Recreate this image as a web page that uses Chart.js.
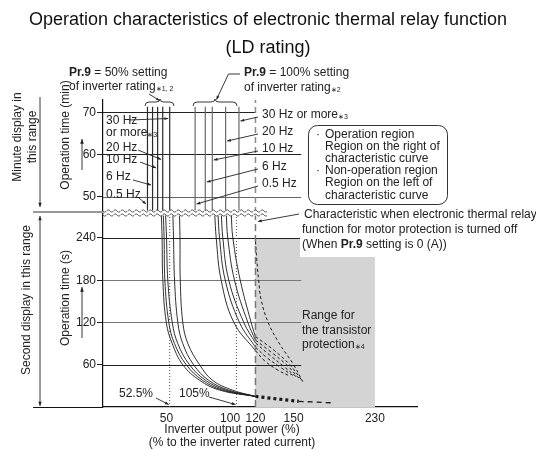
<!DOCTYPE html>
<html>
<head>
<meta charset="utf-8">
<script src="https://cdn.jsdelivr.net/npm/chart.js@4.4.0/dist/chart.umd.min.js"></script>
<style>
  html, body { margin: 0; padding: 0; background: #fff; }
  #wrap { width: 536px; height: 450px; }
</style>
</head>
<body>
<div id="wrap"><canvas id="relayChart" width="536" height="450"></canvas></div>
<script>
const FONT = '"Liberation Sans", Arial, sans-serif';

// axis ticks
const xTicks = [50, 100, 120, 150, 230];
const minTicks = [50, 60, 70];
const secTicks = [60, 120, 180, 240];

// minute range: level (% of rated current) each frequency settles at
// order: 0.5 Hz, 6 Hz, 10 Hz, 20 Hz, 30 Hz or more
const limit50 = [35, 39, 43, 47, 52.5];
const limit100 = [72.5, 80.5, 86, 96.5, 107];
const minuteSpan = [46.1, 71.3];

// second range, Pr.9 = 50 %: current (%) at each operation time (s)
const sec50Times = [275, 240, 180, 120, 90, 60, 38, 24, 15];
const sec50 = [
  [45.9, 46.5, 47.1, 49.8, 54.5, 62.8, 76.0, 91.7, 120],
  [47.4, 48.1, 48.7, 51.8, 56.3, 65.5, 78.3, 94.0, 120],
  [49.2, 50.0, 51.0, 54.5, 58.9, 68.1, 80.7, 96.4, 120],
  [55.0, 55.5, 56.3, 58.9, 62.8, 71.3, 83.1, 98.8, 120],
  [60.2, 60.6, 60.8, 62.8, 66.8, 76.0, 86.2, 101.9, 120]
];

// second range, Pr.9 = 100 %
const sec100Times = [275, 240, 180, 120];
const sec100 = [
  [87.9, 89.1, 93.0, 103.0],
  [90.5, 91.7, 96.2, 107.4],
  [93.1, 94.3, 99.0, 110.8],
  [97.0, 98.2, 103.5, 114.0],
  [100.9, 102.2, 108.0, 116.6]
];
const sec100End = [80, 85, 91, 95, 100];   // time (s) where each curve reaches 120 %

// dashed continuation inside the transistor protection range
const tailX = [
  [120, 127, 137, 147],
  [120, 129, 140, 150],
  [120, 131, 142, 152.5],
  [120, 133, 145, 155],
  [120, 135, 147, 157.5]
];
const tailT = [
  [80, 66, 53, 44],
  [85, 70, 56, 44],
  [91, 74, 58, 43],
  [95, 77, 59, 41],
  [100, 80, 60, 39]
];

// characteristic with Pr.9 = 0 (A)
const offLevel = 120;
const offX = [120, 121, 122.5, 124.5, 130, 138.5, 150, 159];
const offT = [235, 210, 180, 152, 120, 91, 60, 36];

// short-time end where all curves meet
const shortX = [120, 155];
const shortT = [15, 8];
const shortX2 = [155, 187];
const shortT2 = [8, 6];

const markPct = [52.5, 105];
const protectRange = [120, 230];
const protectTop = 240;
const guideEnd = 157.5;

// x axis is drawn compressed above 150 %
const X_BREAK = 150, X_SQUEEZE = 0.8;
const warp = v => v <= X_BREAK ? v : X_BREAK + (v - X_BREAK) * X_SQUEEZE;
const unwarp = v => v <= X_BREAK ? v : X_BREAK + (v - X_BREAK) / X_SQUEEZE;

class SplitLinearScale extends Chart.LinearScale {
  static id = 'splitLinear';
  static defaults = Chart.LinearScale.defaults;
  configure() {
    super.configure();
    this._startValue = warp(this.min);
    this._valueRange = warp(this.max) - this._startValue;
  }
  getPixelForValue(value) {
    if (value === null || value === undefined) return NaN;
    return this.getPixelForDecimal((warp(value) - this._startValue) / this._valueRange);
  }
  getValueForPixel(pixel) {
    return unwarp(this._startValue + this.getDecimalForPixel(pixel) * this._valueRange);
  }
}
Chart.register(SplitLinearScale);

const datasets = [];
function addLine(xs, ys, yAxisID, style) {
  datasets.push(Object.assign({
    data: xs.map((x, i) => ({ x, y: ys[i] })),
    yAxisID,
    showLine: true,
    pointRadius: 0,
    borderColor: '#1a1a1a',
    borderWidth: 1,
    tension: 0,
    fill: false
  }, style));
}

limit50.forEach(v => addLine([v, v], minuteSpan, 'yMin', { borderColor: '#2a2a2a', borderWidth: 1.2 }));
limit100.forEach(v => addLine([v, v], minuteSpan, 'yMin', { borderColor: '#6a6a6a', borderWidth: 1.2 }));

addLine([offLevel, offLevel], [46.1, 72.9], 'yMin', { borderColor: '#8a8a8a', borderWidth: 1.5, borderDash: [6, 4] });
addLine([offLevel, offLevel], [0, 275], 'ySec', { borderColor: '#777', borderWidth: 1.5, borderDash: [7, 4] });

markPct.forEach(v => addLine([v, v], [0, 275], 'ySec', { borderColor: '#555', borderWidth: 1, borderDash: [1, 2] }));

sec50.forEach(xs => addLine(xs, sec50Times, 'ySec', { borderWidth: 0.9, tension: 0.4 }));
sec100.forEach((xs, i) => addLine(xs.concat(offLevel), sec100Times.concat(sec100End[i]), 'ySec',
  { borderWidth: 0.9, tension: 0.4 }));
tailX.forEach((xs, i) => addLine(xs, tailT[i], 'ySec', { borderWidth: 1, borderDash: [3, 2.5], tension: 0.4 }));
addLine(offX, offT, 'ySec', { borderWidth: 1, borderDash: [3, 2.5], tension: 0.4 });
addLine(shortX, shortT, 'ySec', { borderWidth: 3.2, borderDash: [3, 3] });
addLine(shortX2, shortT2, 'ySec', { borderWidth: 1.3, borderDash: [5, 4] });

function arrow(ctx, x1, y1, x2, y2, head) {
  head = head || 4.5;
  ctx.beginPath(); ctx.moveTo(x1, y1); ctx.lineTo(x2, y2); ctx.stroke();
  const a = Math.atan2(y2 - y1, x2 - x1);
  ctx.beginPath();
  ctx.moveTo(x2, y2);
  ctx.lineTo(x2 - head * Math.cos(a - 0.38), y2 - head * Math.sin(a - 0.38));
  ctx.lineTo(x2 - head * Math.cos(a + 0.38), y2 - head * Math.sin(a + 0.38));
  ctx.closePath(); ctx.fill();
}

function rich(ctx, x, y, parts) {
  for (const [t, f, dy] of parts) {
    ctx.font = f;
    ctx.fillText(t, x, y + (dy || 0));
    x += ctx.measureText(t).width;
  }
}

function vtext(ctx, t, x, y) {
  ctx.save();
  ctx.translate(x, y);
  ctx.rotate(-Math.PI / 2);
  ctx.textAlign = 'center';
  ctx.fillText(t, 0, 0);
  ctx.restore();
}

function brace(ctx, x0, x1, tip, y) {
  ctx.beginPath();
  ctx.moveTo(x0, y + 4);
  ctx.quadraticCurveTo(x0, y, x0 + 4, y);
  ctx.lineTo(tip - 4, y);
  ctx.quadraticCurveTo(tip, y, tip, y - 3);
  ctx.quadraticCurveTo(tip, y, tip + 4, y);
  ctx.lineTo(x1 - 4, y);
  ctx.quadraticCurveTo(x1, y, x1, y + 4);
  ctx.stroke();
}

function waveLine(ctx, x0, x1, y) {
  ctx.beginPath();
  for (let px = x0; px <= x1; px += 1) {
    const yy = y + 1.2 * Math.sin((px - x0) / 7 * 2 * Math.PI);
    if (px === x0) ctx.moveTo(px, yy); else ctx.lineTo(px, yy);
  }
  ctx.stroke();
}

const N = '12px ' + FONT;
const B = 'bold 12px ' + FONT;
const S = '7px ' + FONT;

const annotate = {
  id: 'annotate',
  beforeDatasetsDraw(chart) {
    const { ctx, scales: { x, ySec, yMin } } = chart;
    ctx.save();
    // transistor protection range
    const gx0 = x.getPixelForValue(protectRange[0]);
    const gx1 = x.getPixelForValue(protectRange[1]);
    const gy0 = ySec.getPixelForValue(protectTop);
    ctx.fillStyle = '#d4d4d4';
    ctx.fillRect(gx0, gy0, gx1 - gx0, ySec.getPixelForValue(0) - gy0);

    // guide lines
    const x0 = x.getPixelForValue(0);
    const xe = x.getPixelForValue(guideEnd);
    const secColors = { 60: '#222', 120: '#777', 180: '#777', 240: '#222' };
    ctx.lineWidth = 1;
    secTicks.forEach(t => {
      const y = Math.round(ySec.getPixelForValue(t)) + 0.5;
      ctx.strokeStyle = secColors[t];
      ctx.beginPath(); ctx.moveTo(x0, y); ctx.lineTo(xe, y); ctx.stroke();
    });
    const minColors = { 50: '#666', 60: '#222', 70: '#222' };
    minTicks.forEach(t => {
      const y = Math.round(yMin.getPixelForValue(t)) + 0.5;
      const end = t === 70 ? x.getPixelForValue(offLevel) : xe;
      ctx.strokeStyle = minColors[t];
      ctx.beginPath(); ctx.moveTo(x0, y); ctx.lineTo(end, y); ctx.stroke();
    });
    ctx.restore();
  },
  afterDatasetsDraw(chart) {
    const { ctx, scales: { x, ySec } } = chart;
    ctx.save();
    ctx.fillStyle = '#222';
    ctx.strokeStyle = '#222';
    ctx.lineWidth = 0.9;
    ctx.textBaseline = 'middle';
    ctx.textAlign = 'left';

    // scale break between minute and second ranges
    const wx0 = x.getPixelForValue(0), wx1 = 267;
    ctx.fillStyle = '#fff';
    ctx.fillRect(wx0 + 1, 210.5, wx1 - wx0, 5);
    ctx.strokeStyle = '#555';
    waveLine(ctx, wx0, wx1, 211);
    waveLine(ctx, wx0, wx1, 215);
    ctx.strokeStyle = '#999';
    ctx.lineWidth = 2;
    ctx.beginPath(); ctx.moveTo(33, 212); ctx.lineTo(wx0, 212); ctx.stroke();
    ctx.strokeStyle = '#111';
    ctx.lineWidth = 1;
    ctx.beginPath(); ctx.moveTo(33, 407.5); ctx.lineTo(wx0, 407.5); ctx.stroke();

    ctx.fillStyle = '#222';
    ctx.strokeStyle = '#222';
    ctx.lineWidth = 0.9;

    // range arrows on the left
    arrow(ctx, 40, 97, 40, 207);
    arrow(ctx, 40, 300, 40, 216);
    arrow(ctx, 40, 300, 40, 406);
    arrow(ctx, 82, 170, 82, 139, 5);
    arrow(ctx, 82, 338, 82, 287, 5);

    ctx.font = N;
    vtext(ctx, 'Minute display in', 18, 137);
    vtext(ctx, 'this range', 33, 137);
    vtext(ctx, 'Operation time (min)', 66, 135);
    vtext(ctx, 'Second display in this range', 27, 300);
    vtext(ctx, 'Operation time (s)', 66, 298);

    // Pr.9 setting headings
    rich(ctx, 69, 73, [['Pr.9', B], [' = 50% setting', N]]);
    rich(ctx, 69, 87, [['of inverter rating', N], ['\u22171, 2', S, 2]]);
    rich(ctx, 244, 73, [['Pr.9', B], [' = 100% setting', N]]);
    rich(ctx, 244, 88, [['of inverter rating', N], ['\u22172', S, 2]]);

    brace(ctx, 145, 174, 160, 102);
    brace(ctx, 193, 237, 215, 102);
    arrow(ctx, 149, 94, 159.5, 100.5, 3.5);
    ctx.beginPath(); ctx.moveTo(240, 74); ctx.lineTo(228.5, 74); ctx.stroke();
    arrow(ctx, 228.5, 74, 216.5, 99.5, 4);

    // frequency labels, Pr.9 = 50 %
    const rows50 = [
      { t: '0.5 Hz', y: 195, fx: 139, fy: 198, ty: 204 },
      { t: '6 Hz', y: 177, fx: 133, fy: 180, ty: 185 },
      { t: '10 Hz', y: 160, fx: 140, fy: 162, ty: 168 },
      { t: '20 Hz', y: 148, fx: 138, fy: 150, ty: 159.5 },
      { t: '30 Hz', y: 121, fx: 129, fy: 120, ty: 118.5 }
    ];
    ctx.font = N;
    rows50.forEach((r, i) => {
      ctx.fillText(r.t, 106, r.y);
      arrow(ctx, r.fx, r.fy, x.getPixelForValue(limit50[i]) - 1.5, r.ty, 4);
    });
    rich(ctx, 106, 133, [['or more', N], ['\u22173', S, 2]]);

    // frequency labels, Pr.9 = 100 %
    const rows100 = [
      { t: '0.5 Hz', y: 184, ty: 204 },
      { t: '6 Hz', y: 167, ty: 182 },
      { t: '10 Hz', y: 149, ty: 160 },
      { t: '20 Hz', y: 132, ty: 141 },
      { t: '30 Hz or more', y: 115, ty: 121, note: '\u22173' }
    ];
    rows100.forEach((r, i) => {
      const parts = [[r.t, N]];
      if (r.note) parts.push([r.note, S, 2]);
      rich(ctx, 262, r.y, parts);
      arrow(ctx, 258, r.y + 2, x.getPixelForValue(limit100[i]) + 1.5, r.ty, 4);
    });

    // operation / non-operation note
    ctx.strokeStyle = '#333';
    ctx.lineWidth = 1;
    ctx.beginPath();
    ctx.roundRect(308.5, 125.5, 139, 79, 9);
    ctx.stroke();
    ctx.font = N;
    ctx.fillText('\u00b7', 316, 135);
    ctx.fillText('Operation region', 325, 135);
    ctx.fillText('Region on the right of', 325, 147);
    ctx.fillText('characteristic curve', 325, 159);
    ctx.fillText('\u00b7', 316, 171);
    ctx.fillText('Non-operation region', 325, 171);
    ctx.fillText('Region on the left of', 325, 183);
    ctx.fillText('characteristic curve', 325, 196);

    // thermal relay off note
    ctx.fillStyle = '#fff';
    ctx.fillRect(300, 238, 80, 19);
    ctx.fillStyle = '#222';
    ctx.strokeStyle = '#222';
    ctx.lineWidth = 0.9;
    ctx.fillText('Characteristic when electronic thermal relay', 304, 215);
    ctx.fillText('function for motor protection is turned off', 302, 230);
    rich(ctx, 302, 245, [['(When ', N], ['Pr.9', B], [' setting is 0 (A))', N]]);
    arrow(ctx, 299, 214, x.getPixelForValue(offLevel) + 2.5, 221.5, 4);

    ctx.font = N;
    ctx.fillText('Range for', 302, 316);
    ctx.fillText('the transistor', 302, 331);
    rich(ctx, 302, 345, [['protection', N], ['\u22174', S, 2]]);

    // reference levels
    ctx.font = N;
    ctx.fillText('52.5%', 119, 394);
    ctx.fillText('105%', 179, 394);
    const yb = ySec.getPixelForValue(0) - 2.5;
    arrow(ctx, 156, 398, x.getPixelForValue(markPct[0]) - 1, yb, 4);
    arrow(ctx, 209, 397, x.getPixelForValue(markPct[1]) - 1, yb, 4);

    // x axis title
    ctx.textAlign = 'center';
    ctx.fillText('Inverter output power (%)', 232, 430);
    ctx.fillText('(% to the inverter rated current)', 232, 443);

    // chart title
    ctx.fillStyle = '#111';
    ctx.font = '18px ' + FONT;
    ctx.fillText('Operation characteristics of electronic thermal relay function', 268, 20);
    ctx.fillText('(LD rating)', 268, 48);
    ctx.restore();
  }
};

const tickFont = { family: FONT, size: 12 };

new Chart(document.getElementById('relayChart'), {
  type: 'scatter',
  data: { datasets },
  options: {
    responsive: false,
    animation: false,
    devicePixelRatio: 1,
    events: [],
    layout: { padding: { left: 0, right: 119, top: 100, bottom: 0 } },
    plugins: { legend: { display: false }, tooltip: { enabled: false } },
    scales: {
      x: {
        type: 'splitLinear',
        min: 0,
        max: 271.4,
        grid: { display: false, drawTicks: false },
        border: { color: '#111', width: 1.2 },
        ticks: { font: tickFont, color: '#222', padding: 4, maxRotation: 0, autoSkip: false },
        afterBuildTicks: s => { s.ticks = xTicks.map(value => ({ value })); },
        afterFit: s => { s.height = 43; }
      },
      ySec: {
        type: 'linear',
        position: 'left',
        stack: 'time',
        stackWeight: 194,
        min: 0,
        max: 275.5,
        grid: { drawOnChartArea: false, color: '#222', tickLength: 6 },
        border: { color: '#111', width: 1.2 },
        ticks: { font: tickFont, color: '#222', padding: 1 },
        afterBuildTicks: s => { s.ticks = secTicks.map(value => ({ value })); },
        afterFit: s => { s.width = 103; }
      },
      yMin: {
        type: 'linear',
        position: 'left',
        stack: 'time',
        stackWeight: 113,
        min: 46.1,
        max: 72.9,
        grid: { drawOnChartArea: false, color: '#222', tickLength: 6 },
        border: { color: '#111', width: 1.2 },
        ticks: { font: tickFont, color: '#222', padding: 1 },
        afterBuildTicks: s => { s.ticks = minTicks.map(value => ({ value })); },
        afterFit: s => { s.width = 103; }
      }
    }
  },
  plugins: [annotate]
});
</script>
</body>
</html>
